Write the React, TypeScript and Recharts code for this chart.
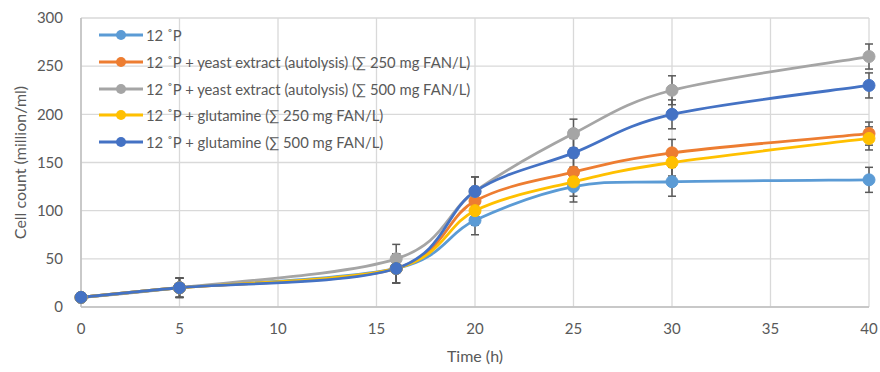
import React from 'react';
import { LineChart, Line, XAxis, YAxis, CartesianGrid, ErrorBar, Label } from 'recharts';

const times = [0, 5, 16, 20, 25, 30, 40];
const xTicks = [0, 5, 10, 15, 20, 25, 30, 35, 40];
const yTicks = [0, 50, 100, 150, 200, 250, 300];

const base = [10, 20, 40, 90, 125, 130, 132];
const yeast250 = [10, 20, 40, 110, 140, 160, 180];
const yeast500 = [10, 20, 50, 120, 180, 225, 260];
const glut250 = [10, 20, 40, 100, 130, 150, 175];
const glut500 = [10, 20, 40, 120, 160, 200, 230];

const baseErr = [0, 10, 15, 15, 16, 15, 13];
const yeast250Err = [0, 10, 15, 15, 15, 14, 12];
const yeast500Err = [0, 10, 15, 15, 15, 15, 13];
const glut250Err = [0, 10, 15, 15, 15, 14, 12];
const glut500Err = [0, 10, 15, 15, 15, 15, 13];

const seriesNames = [
  '12 ˚P',
  '12 ˚P + yeast extract (autolysis) (∑ 250 mg FAN/L)',
  '12 ˚P + yeast extract (autolysis) (∑ 500 mg FAN/L)',
  '12 ˚P + glutamine (∑ 250 mg FAN/L)',
  '12 ˚P + glutamine (∑ 500 mg FAN/L)',
];
const seriesColors = ['#5B9BD5', '#ED7D31', '#A5A5A5', '#FFC000', '#4472C4'];
const seriesKeys = ['base', 'yeast250', 'yeast500', 'glut250', 'glut500'];

const data = times.map((t, i) => ({
  t,
  base: base[i], baseErr: baseErr[i],
  yeast250: yeast250[i], yeast250Err: yeast250Err[i],
  yeast500: yeast500[i], yeast500Err: yeast500Err[i],
  glut250: glut250[i], glut250Err: glut250Err[i],
  glut500: glut500[i], glut500Err: glut500Err[i],
}));

// Excel-like smoothing (Catmull-Rom style bezier)
function excelCurve(context: any) {
  let pts: number[][] = [];
  return {
    areaStart() {},
    areaEnd() {},
    lineStart() { pts = []; },
    lineEnd() {
      if (!pts.length) return;
      context.moveTo(pts[0][0], pts[0][1]);
      for (let i = 0; i < pts.length - 1; i++) {
        const p0 = pts[i - 1] || pts[i];
        const p1 = pts[i];
        const p2 = pts[i + 1];
        const p3 = pts[i + 2] || pts[i + 1];
        context.bezierCurveTo(
          p1[0] + (p2[0] - p0[0]) / 6, p1[1] + (p2[1] - p0[1]) / 6,
          p2[0] - (p3[0] - p1[0]) / 6, p2[1] - (p3[1] - p1[1]) / 6,
          p2[0], p2[1]
        );
      }
    },
    point(x: number, y: number) { pts.push([+x, +y]); },
  };
}

const FONT = 'Lato, "Open Sans", sans-serif';

const LegendBox = () => (
  <div style={{ position: 'absolute', left: 99, top: 22, fontFamily: FONT, fontSize: 14.8, color: '#595959', pointerEvents: 'none' }}>
    {seriesNames.map((n, i) => (
      <div key={i} style={{ display: 'flex', alignItems: 'center', height: 26.7, whiteSpace: 'nowrap' }}>
        <svg width={46} height={12} style={{ marginRight: 1 }}>
          <line x1={0} y1={6} x2={44} y2={6} stroke={seriesColors[i]} strokeWidth={2.8} />
          <circle cx={22} cy={6} r={5} fill={seriesColors[i]} />
        </svg>
        <span>{n}</span>
      </div>
    ))}
  </div>
);

export default function App() {
  return (
    <div style={{ position: 'absolute', left: 0, top: 0, width: 880, height: 372, background: '#fff' }}>
      <LineChart width={880} height={372} data={data} margin={{ top: 18, right: 11, left: 0, bottom: 0 }}>
        <CartesianGrid stroke="#D9D9D9" strokeWidth={1.3} />
        <XAxis
          dataKey="t"
          type="number"
          domain={[0, 40]}
          ticks={xTicks}
          height={65}
          tickLine={false}
          axisLine={{ stroke: '#BFBFBF', strokeWidth: 1.5 }}
          tick={{ fill: '#595959', fontSize: 15, fontFamily: FONT }}
          tickMargin={10}
        >
          <Label value="Time (h)" position="insideBottom" offset={10} style={{ fill: '#595959', fontSize: 16, fontFamily: FONT }} />
        </XAxis>
        <YAxis
          type="number"
          domain={[0, 300]}
          ticks={yTicks}
          width={81}
          tickLine={false}
          axisLine={{ stroke: '#BFBFBF', strokeWidth: 1.5 }}
          tick={{ fill: '#595959', fontSize: 15, fontFamily: FONT }}
          tickMargin={12}
        >
          <Label value="Cell count (million/ml)" angle={-90} position="insideLeft" offset={20} style={{ fill: '#595959', fontSize: 16, fontFamily: FONT, textAnchor: 'middle' }} />
        </YAxis>
        {seriesKeys.map((k, i) => (
          <Line
            key={k}
            dataKey={k}
            name={seriesNames[i]}
            type={excelCurve as any}
            stroke={seriesColors[i]}
            strokeWidth={2.8}
            dot={{ r: 6, fill: seriesColors[i], stroke: seriesColors[i], strokeWidth: 1 }}
            activeDot={false}
            isAnimationActive={false}
          >
            <ErrorBar dataKey={k + 'Err'} width={4} stroke="#595959" strokeWidth={1.5} direction="y" />
          </Line>
        ))}
      </LineChart>
      <LegendBox />
    </div>
  );
}
